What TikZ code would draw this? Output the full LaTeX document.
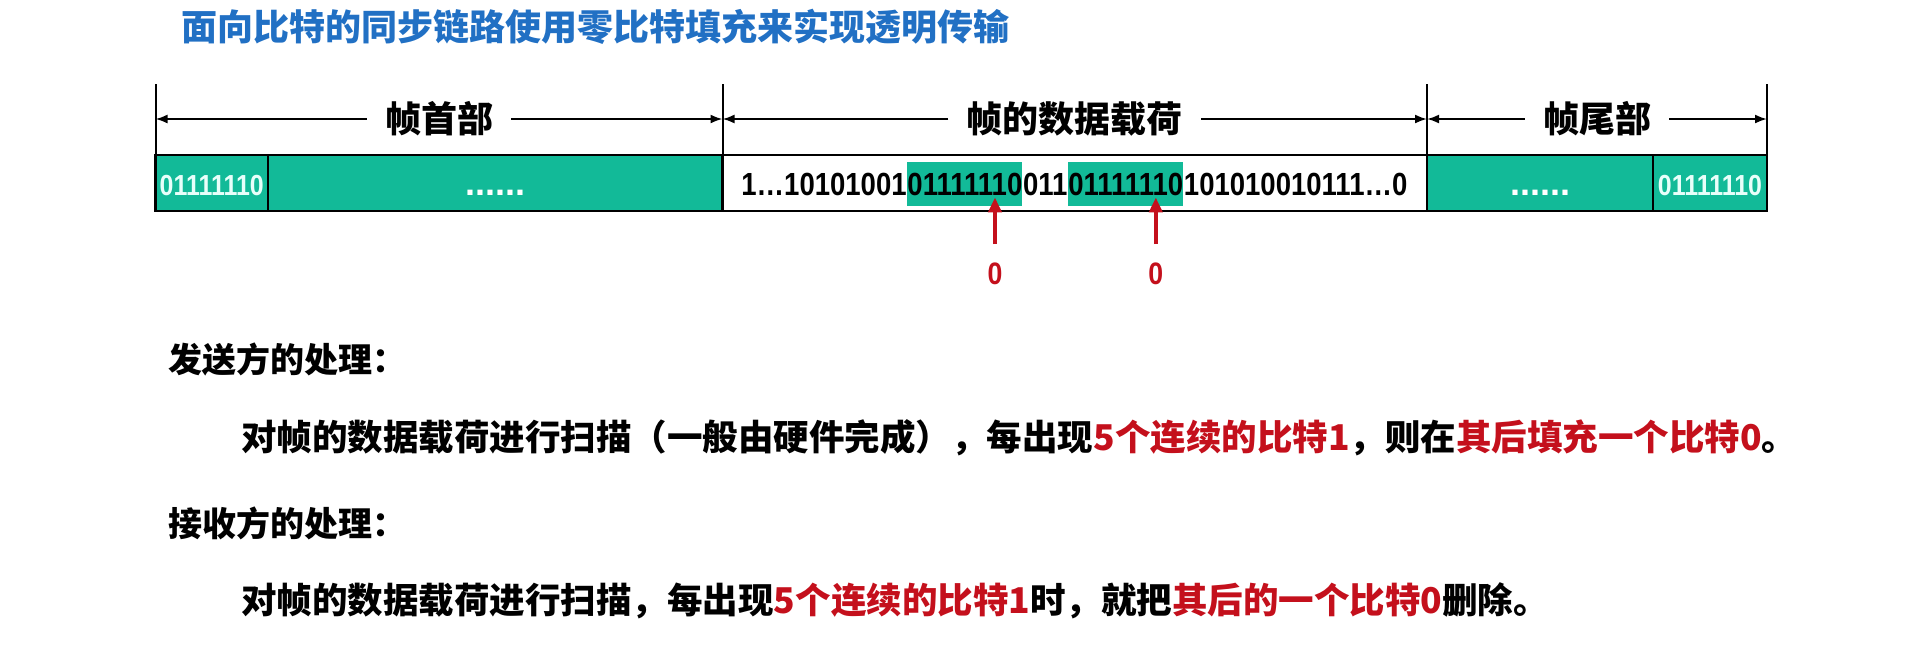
\documentclass[tikz,border=0pt]{standalone}
\usepackage{fontspec}
\setmainfont{Liberation Sans}
\newfontfamily\cjk{Noto Sans CJK SC}
\newfontfamily\bitfont{Liberation Sans}[FakeStretch=0.86]
\usetikzlibrary{positioning,arrows.meta,calc}
\definecolor{flaggreen}{RGB}{18,186,152}
\definecolor{titleblue}{RGB}{33,112,196}
\definecolor{stuffred}{RGB}{196,16,28}
\definecolor{flagtext}{RGB}{232,255,250}

\begin{document}
\begin{tikzpicture}[x=0.5pt,y=-0.5pt,
  field/.style={draw=black,line width=1.2pt},
  dimline/.style={line width=1pt,-{Latex[length=6pt,width=4.5pt]}},
  seclabel/.style={font=\cjk\bfseries\fontsize{18}{20}\selectfont,inner xsep=9pt,inner ysep=0pt},
  bits/.style={font=\bitfont\bfseries\fontsize{16}{18}\selectfont,inner xsep=0pt,inner ysep=0pt,
    text height=11.5pt,text depth=0pt,minimum height=22pt},
  hlbits/.style={bits,fill=flaggreen},
  flagbits/.style={font=\bitfont\bfseries\fontsize{14.5}{17}\selectfont,text=flagtext,inner sep=0pt,anchor=base},
  fielddots/.style={font=\bfseries\fontsize{18}{20}\selectfont,text=white,inner sep=0pt,anchor=base},
  zero/.style={font=\bitfont\bfseries\fontsize{15.5}{17}\selectfont,text=stuffred,inner sep=0pt},
  stuffarrow/.style={draw=stuffred,line width=1.9pt,-{Triangle[length=7.5pt,width=6.5pt]},shorten <=9pt},
  heading/.style={font=\cjk\bfseries\fontsize{17}{20}\selectfont,anchor=west,inner sep=0pt},
  rule/.style={font=\cjk\bfseries\fontsize{17.75}{21}\selectfont,anchor=west,inner sep=0pt}]
\useasboundingbox (0,0) rectangle (1920,650);

\node[font=\cjk\bfseries\fontsize{18}{20}\selectfont,text=titleblue,anchor=west,inner sep=0pt] (title) at (181,27) {面向比特的同步链路使用零比特填充来实现透明传输};

% boundary ticks of the three parts
\foreach \tx/\tn in {155.5/t0,722.5/t1,1427/t2,1767/t3} {
  \draw[line width=1pt] (\tx,84) -- (\tx,211);
  \coordinate (\tn) at (\tx,119);
}

% frame fields
\draw[field,fill=flaggreen] (155.5,155) rectangle (268,211);
\draw[field,fill=flaggreen] (268,155) rectangle (722.5,211);
\draw[field] (722.5,155) rectangle (1427,211);
\draw[field,fill=flaggreen] (1427,155) rectangle (1653,211);
\draw[field,fill=flaggreen] (1653,155) rectangle (1767,211);

\node[flagbits] (fbeg) at (211.75,195) {01111110};
\node[fielddots] (hdots) at (495,195) {......};
\node[fielddots] (tdots) at (1540,195) {......};
\node[flagbits] (fend) at (1710,195) {01111110};

% part labels with dimension arrows
\node[seclabel] (hdr) at (439,119) {帧首部};
\node[seclabel] (pay) at (1074.75,119) {帧的数据载荷};
\node[seclabel] (trl) at (1597,119) {帧尾部};
\draw[dimline] (hdr.west) -- (t0);
\draw[dimline] (hdr.east) -- (t1);
\draw[dimline] (pay.west) -- (t1);
\draw[dimline] (pay.east) -- (t2);
\draw[dimline] (trl.west) -- (t2);
\draw[dimline] (trl.east) -- (t3);

% payload bits, flag patterns highlighted
\node[bits,anchor=west] (p1) at (741,184) {1…10101001};
\node[hlbits,right=0pt of p1] (hl1) {01111110};
\node[bits,right=0pt of hl1] (p2) {011};
\node[hlbits,right=0pt of p2] (hl2) {01111110};
\node[bits,right=0pt of hl2] (p3) {101010010111…0};

% stuffed zeros
\coordinate (s1) at ($(hl1.south west)!0.76!(hl1.south east)+(0,-9)$);
\coordinate (s2) at ($(hl2.south west)!0.76!(hl2.south east)+(0,-9)$);
\node[zero] (z1) at ($(s1)+(0,76)$) {0};
\node[zero] (z2) at ($(s2)+(0,76)$) {0};
\draw[stuffarrow] (z1) -- (s1);
\draw[stuffarrow] (z2) -- (s2);

% sender / receiver rules
\node[heading] (snd) at (168,359) {发送方的处理：};
\node[rule] (sndrule) at (241,438) {对帧的数据载荷进行扫描（一般由硬件完成），每出现\textcolor{stuffred}{5个连续的比特1}，则在\textcolor{stuffred}{其后填充一个比特0}。};
\node[heading] (rcv) at (168,523) {接收方的处理：};
\node[rule] (rcvrule) at (241,601) {对帧的数据载荷进行扫描，每出现\textcolor{stuffred}{5个连续的比特1}时，就把\textcolor{stuffred}{其后的一个比特0}删除。};
\end{tikzpicture}
\end{document}
